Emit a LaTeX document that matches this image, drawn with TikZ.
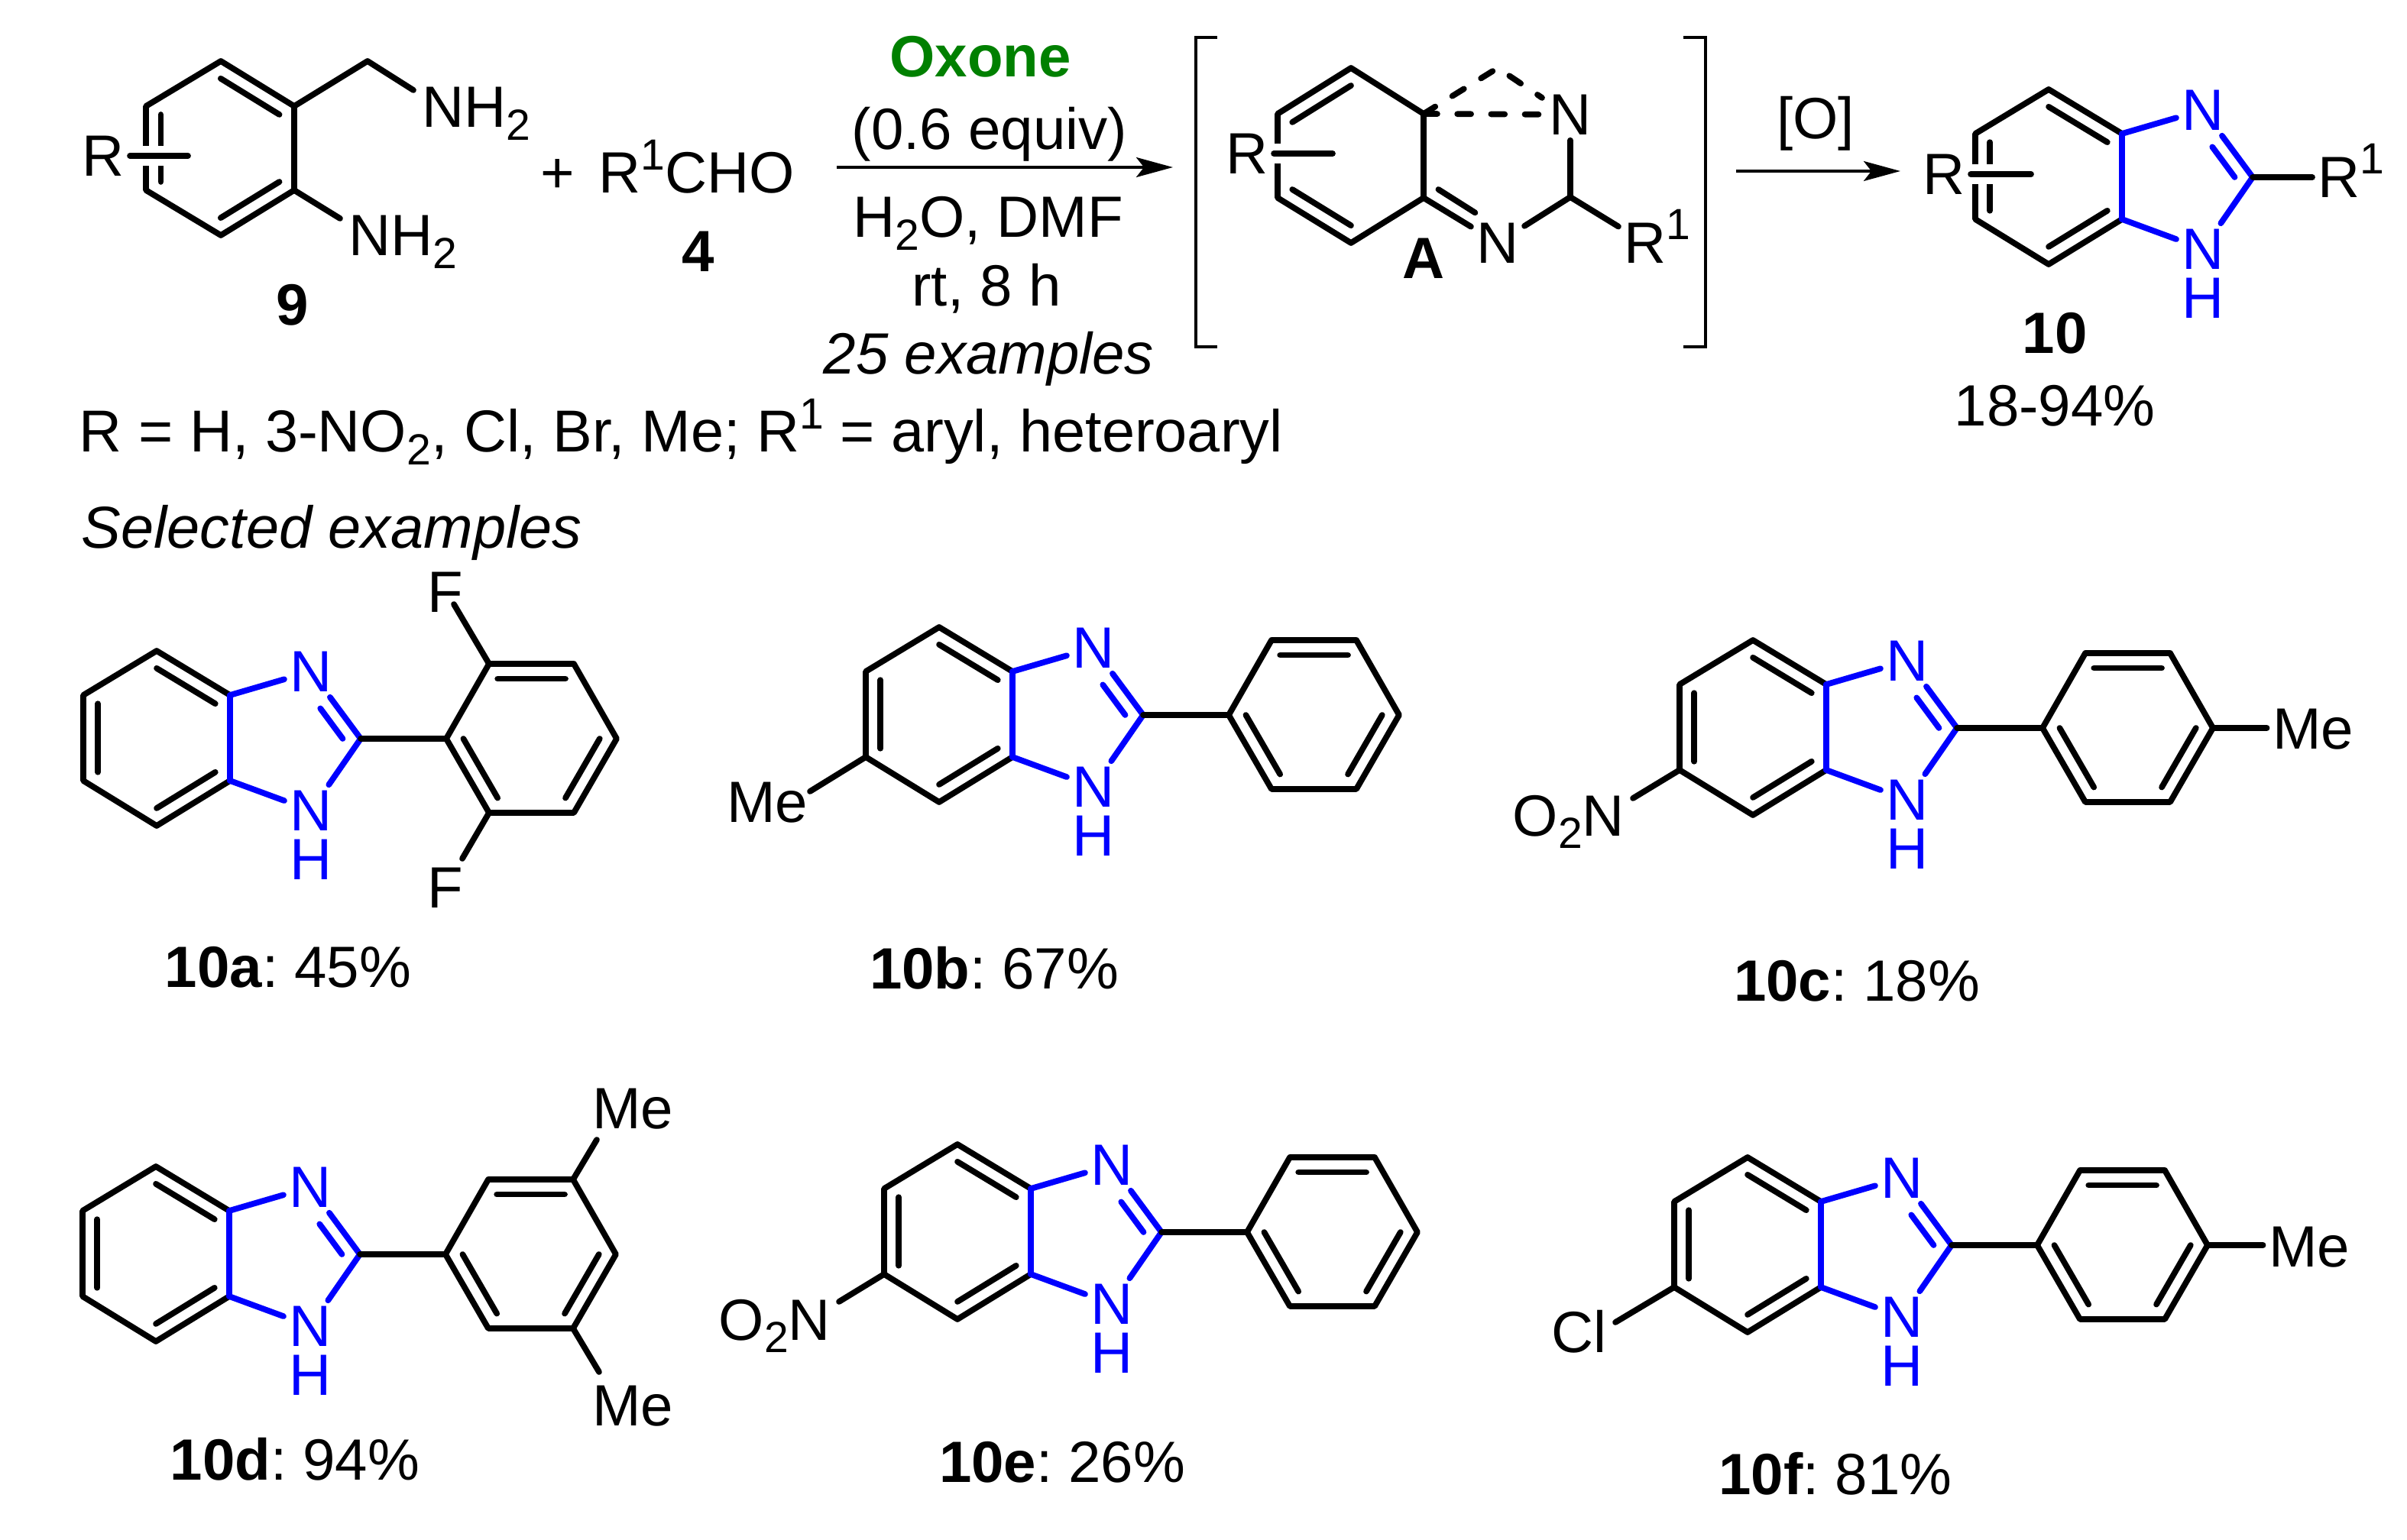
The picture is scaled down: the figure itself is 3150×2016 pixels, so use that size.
\documentclass[tikz,border=0pt]{standalone}
\usepackage{fontspec}
\setmainfont{Liberation Sans}
\usetikzlibrary{calc,arrows.meta}
\definecolor{azoleblue}{RGB}{0,0,255}
\definecolor{oxonegreen}{RGB}{0,128,0}
\newcommand{\chemfont}{\fontsize{18.3pt}{21pt}\selectfont}
\newcommand{\listfont}{\fontsize{18.6pt}{21pt}\selectfont}
\newcommand{\chemsub}[1]{\smash{\raisebox{-4pt}{\fontsize{13.7pt}{14pt}\selectfont #1}}}
\newcommand{\chemsup}[1]{\smash{\raisebox{7.4pt}{\fontsize{13.7pt}{14pt}\selectfont #1}}}
\newcommand{\Rone}{R\rlap{\chemsup{1}}}
\tikzset{
  chemtext/.style={font=\chemfont,inner sep=0pt,anchor=base},
  boldtext/.style={chemtext,font=\chemfont\bfseries},
  atom/.style={font=\chemfont,inner sep=1.6pt},
  bond/.style={line width=1.85pt,line cap=round,line join=round},
  bluebond/.style={bond,draw=azoleblue},
  rbond/.style={bond,preaction={draw,white,line width=6.2pt,line cap=butt}},
  dashbond/.style={bond,dash pattern=on 4.3pt off 6.3pt},
  bracket/.style={line width=1.1pt},
  rxnarrow/.style={->,line width=1.1pt},
}
\newcommand{\innerbond}[3]{\draw[bond] ($(#1)!0.8!(#2)$) -- ($(#1)!0.8!(#3)$);}
\newcommand{\fusedring}[3]{
  \begin{scope}[shift={(#2,#3)}]
  \coordinate (#1-c6) at (-96,56);
  \coordinate (#1-c5) at (77,57);
  \coordinate (#1-top) at (-96,-58);
  \coordinate (#1-UR) at (0,0);
  \coordinate (#1-LR) at (0,112);
  \coordinate (#1-bot) at (-96,171);
  \coordinate (#1-LL) at (-192,112);
  \coordinate (#1-UL) at (-192,0);
  \coordinate (#1-C2) at (171,57);
  \node[atom,text=azoleblue] (#1-N) at (106,-31) {N};
  \node[atom,text=azoleblue] (#1-NH) at (106,151) {N};
  \node[atom,text=azoleblue,inner sep=0pt] (#1-H) at (106,215) {H};
  \end{scope}
  \coordinate (#1-Ni) at ($(#1-C2)!0.6!(#1-N)$);
  \draw[bond] (#1-UR) -- (#1-top) -- (#1-UL) -- (#1-LL) -- (#1-bot) -- (#1-LR);
  \innerbond{#1-c6}{#1-top}{#1-UR}
  \innerbond{#1-c6}{#1-UL}{#1-LL}
  \innerbond{#1-c6}{#1-bot}{#1-LR}
  \draw[bluebond] (#1-UR) -- (#1-LR);
  \draw[bluebond] (#1-UR) -- (#1-N);
  \draw[bluebond] (#1-LR) -- (#1-NH);
  \draw[bluebond] (#1-C2) -- (#1-N);
  \draw[bluebond] (#1-C2) -- (#1-NH);
  \draw[bluebond] ($(#1-c5)!0.75!(#1-C2)$) -- ($(#1-c5)!0.75!(#1-Ni)$);
}
\newcommand{\phring}[3]{
  \begin{scope}[shift={(#2,#3)}]
  \coordinate (#1-c) at (395,57);
  \coordinate (#1-a) at (283,57);
  \coordinate (#1-b) at (339,-41);
  \coordinate (#1-d) at (450,-41);
  \coordinate (#1-e) at (506,57);
  \coordinate (#1-f) at (450,154);
  \coordinate (#1-g) at (339,154);
  \end{scope}
  \draw[bond] (#1-a) -- (#1-b) -- (#1-d) -- (#1-e) -- (#1-f) -- (#1-g) -- cycle;
  \innerbond{#1-c}{#1-b}{#1-d}
  \innerbond{#1-c}{#1-a}{#1-g}
  \innerbond{#1-c}{#1-e}{#1-f}
  \draw[bond] (#1-C2) -- (#1-a);
}
\begin{document}
\begin{tikzpicture}[x=0.24pt,y=-0.24pt,>={Stealth[length=11.5pt,width=6.2pt,inset=2.4pt]}]
\path[use as bounding box,fill=white] (0,0) rectangle (3150,2016);
%%
\coordinate (s9_top) at (289,80);
\coordinate (s9_UR) at (385,139);
\coordinate (s9_LR) at (385,249);
\coordinate (s9_bot) at (289,308);
\coordinate (s9_LL) at (191,249);
\coordinate (s9_UL) at (191,139);
\coordinate (s9_c) at (288,194);
\coordinate (s9_ch2) at (481,80);
\coordinate (s9_end1) at (541,118);
\coordinate (s9_end2) at (445,286);
\coordinate (s9_rend) at (246,204);
\draw[bond] (s9_top) -- (s9_UR) -- (s9_LR) -- (s9_bot) -- (s9_LL) -- (s9_UL) -- cycle;
\innerbond{s9_c}{s9_top}{s9_UR}
\innerbond{s9_c}{s9_UL}{s9_LL}
\innerbond{s9_c}{s9_bot}{s9_LR}
\draw[bond] (s9_UR) -- (s9_ch2) -- (s9_end1);
\draw[bond] (s9_LR) -- (s9_end2);
\node[atom] (r_9) at (135,204) {R};
\draw[rbond] (r_9.east |- s9_rend) -- (s9_rend);
\node[chemtext,anchor=base west] (nh_9a) at (552,167) {NH\chemsub{2}};
\node[chemtext,anchor=base west] (nh_9b) at (456,335) {NH\chemsub{2}};
\node[boldtext] (lab_9) at (383,426) {9};
\node[chemtext] (plus_1) at (730,253) {+};
\node[chemtext,anchor=base west] (cho_4) at (783,253) {R\chemsup{1}CHO};
\node[boldtext] (lab_4) at (914,356) {4};
%
\node[boldtext,text=oxonegreen] (oxone) at (1283,101) {Oxone};
\node[chemtext] (equiv) at (1295,196) {(0.6 equiv)};
\coordinate (arrow_a) at (1095,219);
\coordinate (arrow_b) at (1535,219);
\draw[rxnarrow] (arrow_a) -- (arrow_b);
\node[chemtext] (solvent) at (1293,311) {H\chemsub{2}O, DMF};
\node[chemtext] (time) at (1291,401) {rt, 8 h};
\node[chemtext,font=\chemfont\itshape] (scope) at (1294,490) {25 examples};
\node[chemtext,anchor=base west,font=\listfont] (rlist) at (103,592) {R = H, 3-NO\chemsub{2}, Cl, Br, Me; R\chemsup{1} = aryl, heteroaryl};
\node[chemtext,anchor=base west,font=\listfont\itshape] (selected) at (106,718) {Selected examples};
%
\draw[bracket] (1593,49) -- (1565,49) -- (1565,454) -- (1593,454);
\draw[bracket] (2203,49) -- (2232,49) -- (2232,454) -- (2203,454);
\coordinate (a_top) at (1768,89);
\coordinate (a_UR) at (1863,149);
\coordinate (a_LR) at (1863,259);
\coordinate (a_bot) at (1768,318);
\coordinate (a_LL) at (1672,259);
\coordinate (a_UL) at (1672,149);
\coordinate (a_c) at (1768,204);
\coordinate (a_c2) at (1960,204);
\coordinate (a_apex) at (1960,89);
\coordinate (a_C) at (2055,258);
\coordinate (a_dash) at (2018,128);
\coordinate (a_Ne) at (1923,297);
\coordinate (a_rend) at (1744,201);
\node[atom] (a_N1) at (2055,150) {N};
\node[atom] (a_N2) at (1960,318) {N};
\node[atom] (a_R1) at (2153,318) {\Rone};
\node[atom] (a_R) at (1632,201) {R};
\draw[bond] (a_UR) -- (a_top) -- (a_UL) -- (a_LL) -- (a_bot) -- (a_LR) -- cycle;
\innerbond{a_c}{a_top}{a_UL}
\innerbond{a_c}{a_bot}{a_LL}
\innerbond{a_c2}{a_LR}{a_Ne}
\draw[bond] (a_LR) -- (a_N2);
\draw[bond] (a_N2) -- (a_C);
\draw[bond] (a_C) -- (a_N1);
\draw[bond] (a_C) -- (a_R1);
\draw[dashbond] (a_UR) -- (a_apex) -- (a_dash);
\draw[dashbond] (a_UR) -- (a_N1);
\draw[rbond] (a_R.east |- a_rend) -- (a_rend);
\node[boldtext] (lab_A) at (1863,365) {A};
%
\coordinate (arrow_c) at (2272,224);
\coordinate (arrow_d) at (2487,224);
\draw[rxnarrow] (arrow_c) -- (arrow_d);
\node[chemtext] (ox) at (2376,182) {[O]};
\fusedring{p_10}{2777}{175}
\node[atom] (p_R) at (2544,228) {R};
\node[atom] (p_R1) at (3061,232) {\Rone};
\coordinate (p_rend) at (2658,228);
\draw[rbond] (p_R.east |- p_rend) -- (p_rend);
\draw[bond] (p_10-C2) -- (p_R1);
\node[boldtext] (lab_10) at (2689,463) {10};
\node[chemtext] (range) at (2689,558) {18-94\%};
%
\foreach \mol/\xj/\yj in {m_a/301/910,m_b/1325/879,m_c/2390/896,m_d/300/1585,m_e/1349/1556,m_f/2383/1573}{
  \fusedring{\mol}{\xj}{\yj}
  \phring{\mol}{\xj}{\yj}
}
%
\node[atom] (f_1) at (583,775) {F};
\node[atom] (f_2) at (583,1162) {F};
\coordinate (f_end1) at (594,791);
\coordinate (f_end2) at (605,1124);
\draw[bond] (m_a-b) -- (f_end1);
\draw[bond] (m_a-g) -- (f_end2);
\node[atom] (me_b) at (1004,1051) {Me};
\coordinate (me_bend) at (1060,1036);
\draw[bond] (m_b-LL) -- (me_bend);
\node[chemtext,anchor=base west] (no_c) at (1979,1094) {O\chemsub{2}N};
\coordinate (no_cend) at (2137,1045);
\draw[bond] (m_c-LL) -- (no_cend);
\node[atom] (me_c) at (3027,955) {Me};
\draw[bond] (m_c-e) -- (me_c.west |- m_c-e);
\node[atom] (me_d1) at (828,1452) {Me};
\node[atom] (me_d2) at (828,1841) {Me};
\coordinate (me_dend1) at (781,1492);
\coordinate (me_dend2) at (784,1796);
\draw[bond] (m_d-d) -- (me_dend1);
\draw[bond] (m_d-f) -- (me_dend2);
\node[chemtext,anchor=base west] (no_e) at (940,1754) {O\chemsub{2}N};
\coordinate (no_eend) at (1098,1704);
\draw[bond] (m_e-LL) -- (no_eend);
\node[chemtext] (cl_f) at (2066,1770) {Cl};
\coordinate (cl_fend) at (2114,1731);
\draw[bond] (m_f-LL) -- (cl_fend);
\node[atom] (me_f) at (3022,1633) {Me};
\draw[bond] (m_f-e) -- (me_f.west |- m_f-e);
%
\foreach \lab/\pct/\xl/\yl in {a/45/377/1292,b/67/1301/1294,c/18/2430/1310,d/94/386/1937,e/26/1390/1940,f/81/2402/1956}{
  \node[chemtext] (yield_\lab) at (\xl,\yl) {\textbf{10\lab}:\hspace{5pt}\pct\%};
}
%
\end{tikzpicture}
\end{document}
